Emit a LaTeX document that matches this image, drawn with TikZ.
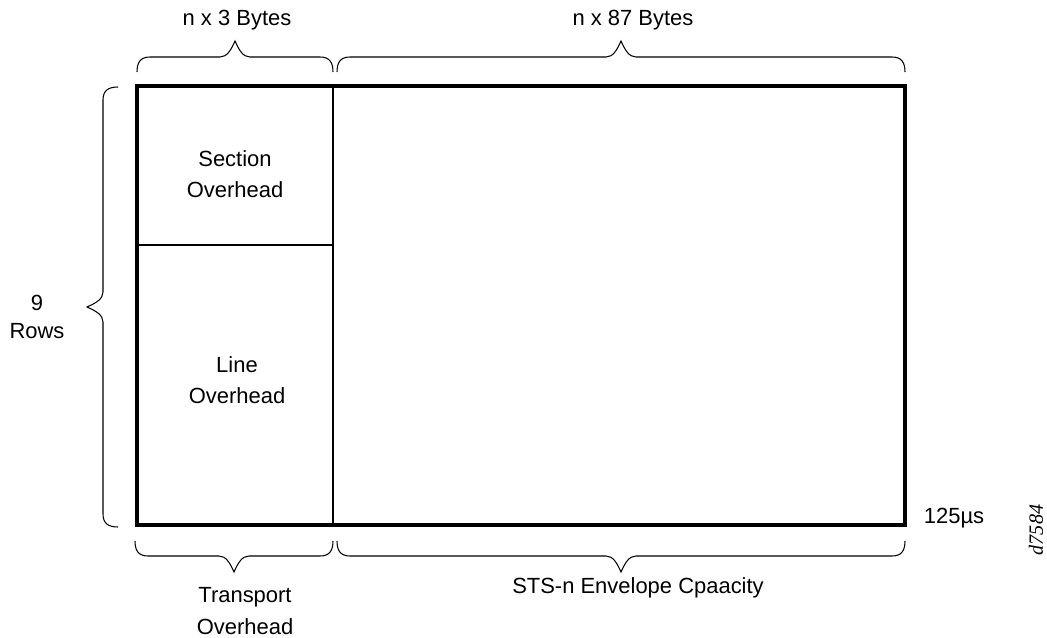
\documentclass[tikz,border=0pt]{standalone}
\usepackage{fontspec}
\setmainfont{Liberation Sans}
\newfontfamily\figfont{Liberation Serif}
\usepackage{tikz}

\tikzset{
  lbl/.style={font=\fontsize{12.5}{18}\selectfont, align=center, inner sep=0pt},
  thin line/.style={line width=0.6pt},
  frame line/.style={line width=2.4pt}
}

% brace: start point, length, rotation (tip points "up" before rotation)
\newcommand{\sonetbrace}[3]{%
  \draw[thin line, shift={#1}, rotate=#3]
    (0,0) .. controls (0,-9) and (3,-15) .. (13,-15)
    -- ({#2/2-15},-15) .. controls ({#2/2-8},-15) and ({#2/2-4},-22) .. ({#2/2},-31)
    .. controls ({#2/2+4},-22) and ({#2/2+8},-15) .. ({#2/2+15},-15)
    -- ({#2-13},-15) .. controls ({#2-3},-15) and (#2,-9) .. (#2,0);
}

\begin{document}
\begin{tikzpicture}[x=0.02cm, y=-0.02cm]
  \useasboundingbox (0,0) rectangle (1047,638);

  \coordinate (tl) at (137,86);
  \coordinate (br) at (905,525);
  \coordinate (divtop) at (333,86);
  \coordinate (divbot) at (333,525);
  \coordinate (sohbot) at (137,245);

  \draw[thin line] (divtop) -- (divbot);
  \draw[thin line] (sohbot) -- (sohbot -| divtop);
  \draw[frame line] (tl) rectangle (br);

  \sonetbrace{(137,72)}{196}{0}
  \sonetbrace{(337,72)}{568}{0}
  \sonetbrace{(333,541)}{198}{180}
  \sonetbrace{(905,541)}{568}{180}
  \sonetbrace{(118,527)}{440}{90}

  \node[lbl] (nx3) at (237,20) {n x 3 Bytes};
  \node[lbl] (nx87) at (633,20) {n x 87 Bytes};
  \node[lbl] (soh) at (235,174) {Section\\Overhead};
  \node[lbl] (loh) at (237,380) {Line\\Overhead};
  \node[lbl, font=\fontsize{12.5}{15.5}\selectfont] (rows) at (37,317) {9\\Rows};
  \node[lbl] (toh) at (245,611) {Transport\\Overhead};
  \node[lbl] (spe) at (638,588) {STS-n Envelope Cpaacity};
  \node[lbl] (frm) at (954,518) {125µs};
  \node[inner sep=0pt, rotate=90, font=\figfont\itshape\fontsize{11.5}{14}\selectfont] (fig) at (1036,530) {d7584};
\end{tikzpicture}
\end{document}
